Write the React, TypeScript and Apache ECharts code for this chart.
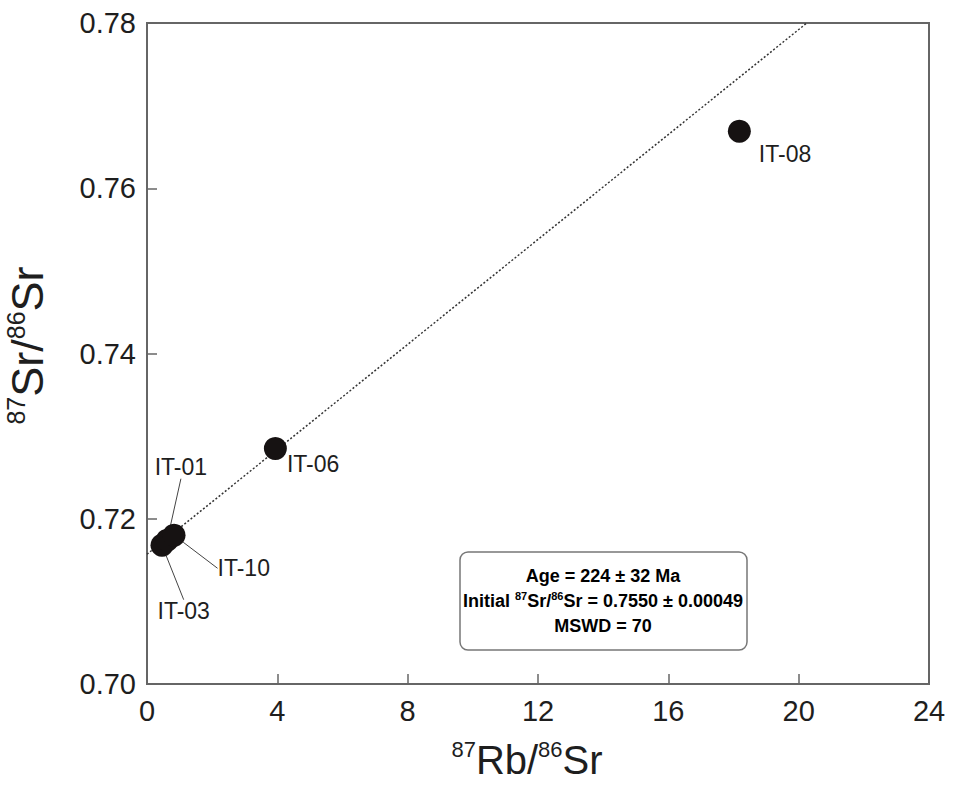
import React, { useEffect, useRef } from "react";
import * as echarts from "echarts";

const sampleNames = ["IT-03", "IT-01", "IT-10", "IT-06", "IT-08"];
const rbSr = [0.46, 0.62, 0.83, 3.94, 18.18];
const srSr = [0.7168, 0.7174, 0.718, 0.7285, 0.7669];
const isochronX = [0, 20.25];
const isochronY = [0.7157, 0.78];
const xTicks = { min: 0, max: 24, interval: 4 };
const yTicks = { min: 0.7, max: 0.78, interval: 0.02 };
const resultLines = ["Age = 224 ± 32 Ma", "Initial 87Sr/86Sr = 0.7550 ± 0.00049", "MSWD = 70"];

const FONT = "'Liberation Sans', Arial, Helvetica, sans-serif";

// label placement (style only)
const labelOffsets: Record<string, { dx: number; dy: number; line: boolean }> = {
  "IT-03": { dx: -20, dy: 66, line: true },
  "IT-01": { dx: -28, dy: -73, line: true },
  "IT-10": { dx: 28, dy: 33, line: true },
  "IT-06": { dx: -4, dy: 15, line: false },
  "IT-08": { dx: 4, dy: 23, line: false },
};

export default function App() {
  const ref = useRef<HTMLDivElement>(null);
  useEffect(() => {
    if (!ref.current) return;
    const chart = echarts.init(ref.current, undefined, { renderer: "svg" });

    const all = sampleNames.map((n, i) => ({ name: n, value: [rbSr[i], srSr[i]] }));
    const withLine = all.filter((d) => labelOffsets[d.name].line);
    const noLine = all.filter((d) => !labelOffsets[d.name].line);

    const scatterCommon = {
      type: "scatter",
      symbolSize: 23,
      itemStyle: { color: "#161212", opacity: 1 },
      label: {
        show: true,
        position: "right",
        distance: 4,
        formatter: "{b}",
        fontFamily: FONT,
        fontSize: 23,
        color: "#1e1e1e",
      },
      z: 5,
    };

    const layoutFor = (arr: any[]) => (params: any) => {
      const off = labelOffsets[arr[params.dataIndex].name];
      return { dx: off.dx, dy: off.dy };
    };

    const supRichX = {
      s: { fontSize: 22, fontFamily: FONT, color: "#1e1e1e", verticalAlign: "top", lineHeight: 44 },
      b: { fontSize: 40, fontFamily: FONT, color: "#1e1e1e", lineHeight: 44 },
    };
    const supRichY = {
      s: { fontSize: 25, fontFamily: FONT, color: "#1e1e1e", verticalAlign: "top", lineHeight: 48 },
      b: { fontSize: 45, fontFamily: FONT, color: "#1e1e1e", lineHeight: 48 },
    };

    const boxRich = {
      t: { fontSize: 18, fontWeight: "bold", fontFamily: FONT, color: "#1e1e1e", lineHeight: 22 },
      s: { fontSize: 11, fontWeight: "bold", fontFamily: FONT, color: "#1e1e1e", verticalAlign: "top", lineHeight: 22 },
    };

    const boxText = (y: number, text: string) => ({
      type: "text",
      x: 603,
      y,
      style: { text, rich: boxRich, align: "center", verticalAlign: "middle" },
      z: 11,
    });

    chart.setOption({
      animation: false,
      backgroundColor: "#fff",
      grid: {
        left: 147,
        top: 23,
        right: 28,
        bottom: 112,
        outerBoundsMode: "none",
        containLabel: false,
        show: true,
        borderColor: "#666",
        borderWidth: 2,
      },
      xAxis: {
        type: "value",
        min: xTicks.min,
        max: xTicks.max,
        interval: xTicks.interval,
        splitLine: { show: false },
        axisLine: { lineStyle: { color: "#666", width: 2 } },
        axisTick: { inside: true, length: 10, lineStyle: { color: "#666", width: 1.5 } },
        axisLabel: { fontFamily: FONT, fontSize: 29, color: "#1e1e1e", margin: 12 },
        name: "{s|87}{b|Rb/}{s|86}{b|Sr}",
        nameLocation: "middle",
        nameGap: 54,
        nameTextStyle: { rich: supRichX, padding: [0, 22, 0, 0] },
      },
      yAxis: {
        type: "value",
        min: yTicks.min,
        max: yTicks.max,
        interval: yTicks.interval,
        splitLine: { show: false },
        axisLine: { lineStyle: { color: "#666", width: 2 } },
        axisTick: { inside: true, length: 10, lineStyle: { color: "#666", width: 1.5 } },
        axisLabel: {
          fontFamily: FONT,
          fontSize: 29,
          color: "#1e1e1e",
          margin: 11,
          formatter: (v: number) => v.toFixed(2),
        },
        name: "{s|87}{b|Sr/}{s|86}{b|Sr}",
        nameLocation: "middle",
        nameRotate: 90,
        nameGap: 96,
        nameTextStyle: { rich: supRichY, padding: [0, 0, 0, 16] },
      },
      series: [
        {
          type: "line",
          data: isochronX.map((x, i) => [x, isochronY[i]]),
          symbol: "none",
          lineStyle: { type: [2, 2], color: "#333", width: 1.5 },
          z: 2,
          silent: true,
        },
        {
          ...scatterCommon,
          data: withLine,
          labelLayout: layoutFor(withLine),
          labelLine: { show: true, lineStyle: { color: "#444", width: 1 } },
        },
        {
          ...scatterCommon,
          data: noLine,
          labelLayout: layoutFor(noLine),
        },
      ],
      graphic: [
        {
          type: "rect",
          shape: { x: 460, y: 552, width: 287, height: 98, r: 8 },
          style: { fill: "#fff", stroke: "#777", lineWidth: 1.5 },
          z: 10,
        },
        boxText(576, "{t|" + resultLines[0] + "}"),
        boxText(601, "{t|Initial }{s|87}{t|Sr/}{s|86}{t|Sr = 0.7550 ± 0.00049}"),
        boxText(626, "{t|" + resultLines[2] + "}"),
      ],
    });
    return () => chart.dispose();
  }, []);
  return (
    <div
      ref={ref}
      style={{ position: "absolute", left: 0, top: 0, width: 957, height: 796 }}
    />
  );
}
